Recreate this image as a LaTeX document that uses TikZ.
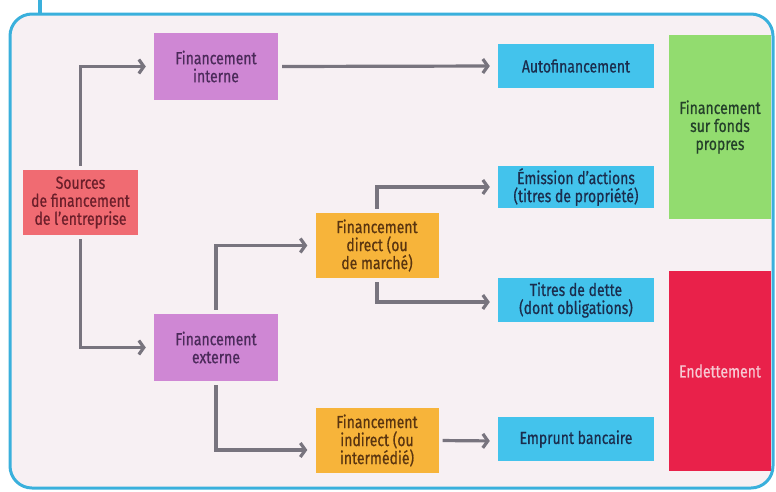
\documentclass[tikz,border=0pt]{standalone}
\usepackage{fontspec}
\setmainfont[FakeStretch=0.8, FakeBold=0.6]{Fira Sans}
\usetikzlibrary{arrows.meta}

\definecolor{framecol}{HTML}{3AB0DC}
\definecolor{paper}{HTML}{F7F0F3}
\definecolor{srcfill}{HTML}{F06B72}
\definecolor{srctext}{HTML}{6B1F2A}
\definecolor{violfill}{HTML}{CF87D4}
\definecolor{violtext}{HTML}{4B2A5A}
\definecolor{orfill}{HTML}{F7B43A}
\definecolor{ortext}{HTML}{5A3510}
\definecolor{bluefill}{HTML}{43C3EC}
\definecolor{bluetext}{HTML}{1B2D4D}
\definecolor{greenfill}{HTML}{92DC6F}
\definecolor{greentext}{HTML}{24402A}
\definecolor{redfill}{HTML}{E9214A}
\definecolor{redtext}{HTML}{F7C9D3}
\definecolor{arrowcol}{HTML}{78747E}

\tikzset{
  box/.style={rectangle, inner sep=0pt, align=center,
    font=\fontsize{17.5}{18}\selectfont},
  srcbox/.style={box, fill=srcfill, text=srctext,
    minimum width=115pt, minimum height=65pt},
  violbox/.style={box, fill=violfill, text=violtext,
    minimum width=124pt, minimum height=67pt},
  orbox/.style={box, fill=orfill, text=ortext,
    minimum width=123pt, minimum height=65pt},
  bluebox/.style={box, fill=bluefill, text=bluetext,
    minimum width=156pt, minimum height=44pt},
  sidebox/.style={box, minimum width=102pt},
  link/.style={draw=arrowcol, line width=3.2pt,
    -{Straight Barb[length=5pt,width=14pt]},
    shorten <=4pt, shorten >=8pt},
}

\begin{document}
\begin{tikzpicture}[x=1pt, y=-1pt]
  \useasboundingbox (0,0) rectangle (776,491);
  % frame
  \draw[framecol, line width=3.5pt] (40,0) -- (40,14);
  \draw[framecol, line width=3pt, fill=paper, rounded corners=22pt]
    (10,14) rectangle (773,488);

  % left part
  \node[srcbox] (src) at (80.5,202.5) {Sources\\de financement\\de l'entreprise};
  \node[violbox] (intn) at (216,66.5) {Financement\\interne};
  \node[violbox] (extn) at (216,347.5) {Financement\\externe};
  \node[orbox] (direct) at (377,245.5) {Financement\\direct (ou\\de marché)};
  \node[orbox] (indirect) at (377,440.5) {Financement\\indirect (ou\\intermédié)};

  % right part
  \node[bluebox] (auto) at (576,66) {Autofinancement};
  \node[bluebox, minimum height=42pt] (emis) at (576,187) {Émission d'actions\\(titres de propriété)};
  \node[bluebox] (titres) at (576,300) {Titres de dette\\(dont obligations)};
  \node[bluebox] (emprunt) at (576,439) {Emprunt bancaire};
  \node[sidebox, fill=greenfill, text=greentext, minimum height=184pt]
    (propres) at (720,127) {Financement\\sur fonds\\propres};
  \node[sidebox, fill=redfill, text=redtext, minimum height=200pt]
    (endet) at (720,371) {Endettement};

  % connectors
  \draw[link] (src.north) |- (intn.west);
  \draw[link] (src.south) |- (extn.west);
  \draw[link] (intn.east) -- (auto.west);
  \draw[link] (extn.north) |- (direct.west);
  \draw[link] (extn.south) |- ([yshift=-9.5pt]indirect.west);
  \draw[link] (direct.north) |- (emis.west);
  \draw[link] (direct.south) |- ([yshift=-2pt]titres.west);
  \draw[link] (indirect.east) -- ([yshift=-2pt]emprunt.west);
\end{tikzpicture}
\end{document}
